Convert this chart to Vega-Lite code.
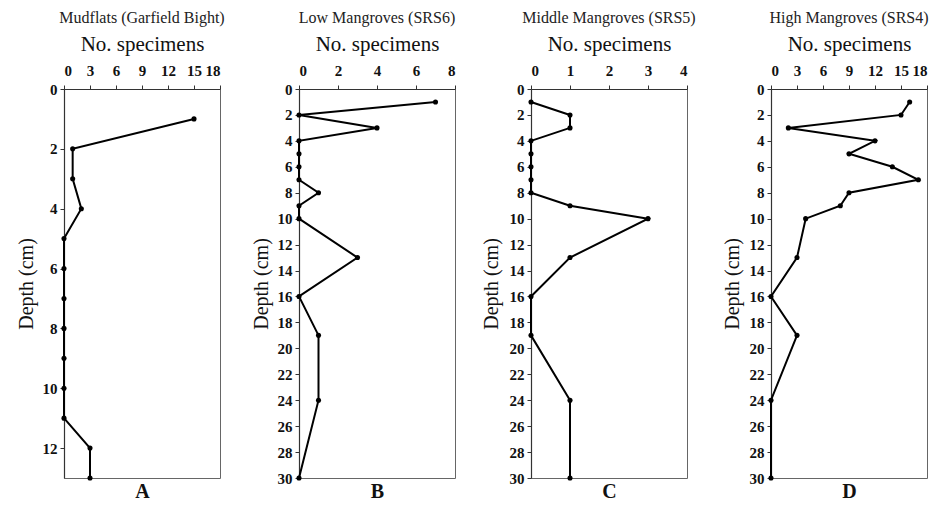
{
  "$schema": "https://vega.github.io/schema/vega-lite/v6.json",
  "padding": {"top": 9, "left": 15, "right": 0, "bottom": 0},
  "background": "white",
  "config": {
    "font": "Liberation Serif",
    "view": {"stroke": "#666666", "strokeWidth": 1},
    "title": {"font": "Liberation Serif", "fontSize": 16, "fontWeight": "normal", "color": "#222222", "anchor": "middle", "frame": "group", "offset": 7},
    "axis": {
      "labelFont": "Liberation Serif", "labelFontWeight": "bold", "labelFontSize": 15, "labelColor": "#111111",
      "titleFont": "Liberation Serif", "titleFontWeight": "normal", "titleFontSize": 20, "titleColor": "#111111",
      "domainColor": "#333333", "domainWidth": 1.2, "tickColor": "#333333", "tickSize": 4, "grid": false
    }
  },
  "data": {
    "values": [
      {"site": "A", "depth": 1, "n": 15}, {"site": "A", "depth": 2, "n": 1}, {"site": "A", "depth": 3, "n": 1},
      {"site": "A", "depth": 4, "n": 2}, {"site": "A", "depth": 5, "n": 0}, {"site": "A", "depth": 6, "n": 0},
      {"site": "A", "depth": 7, "n": 0}, {"site": "A", "depth": 8, "n": 0}, {"site": "A", "depth": 9, "n": 0},
      {"site": "A", "depth": 10, "n": 0}, {"site": "A", "depth": 11, "n": 0}, {"site": "A", "depth": 12, "n": 3},
      {"site": "A", "depth": 13, "n": 3},
      {"site": "B", "depth": 1, "n": 7}, {"site": "B", "depth": 2, "n": 0}, {"site": "B", "depth": 3, "n": 4},
      {"site": "B", "depth": 4, "n": 0}, {"site": "B", "depth": 5, "n": 0}, {"site": "B", "depth": 6, "n": 0},
      {"site": "B", "depth": 7, "n": 0}, {"site": "B", "depth": 8, "n": 1}, {"site": "B", "depth": 9, "n": 0},
      {"site": "B", "depth": 10, "n": 0}, {"site": "B", "depth": 13, "n": 3}, {"site": "B", "depth": 16, "n": 0},
      {"site": "B", "depth": 19, "n": 1}, {"site": "B", "depth": 24, "n": 1}, {"site": "B", "depth": 30, "n": 0},
      {"site": "C", "depth": 1, "n": 0}, {"site": "C", "depth": 2, "n": 1}, {"site": "C", "depth": 3, "n": 1},
      {"site": "C", "depth": 4, "n": 0}, {"site": "C", "depth": 5, "n": 0}, {"site": "C", "depth": 6, "n": 0},
      {"site": "C", "depth": 7, "n": 0}, {"site": "C", "depth": 8, "n": 0}, {"site": "C", "depth": 9, "n": 1},
      {"site": "C", "depth": 10, "n": 3}, {"site": "C", "depth": 13, "n": 1}, {"site": "C", "depth": 16, "n": 0},
      {"site": "C", "depth": 19, "n": 0}, {"site": "C", "depth": 24, "n": 1}, {"site": "C", "depth": 30, "n": 1},
      {"site": "D", "depth": 1, "n": 16}, {"site": "D", "depth": 2, "n": 15}, {"site": "D", "depth": 3, "n": 2},
      {"site": "D", "depth": 4, "n": 12}, {"site": "D", "depth": 5, "n": 9}, {"site": "D", "depth": 6, "n": 14},
      {"site": "D", "depth": 7, "n": 17}, {"site": "D", "depth": 8, "n": 9}, {"site": "D", "depth": 9, "n": 8},
      {"site": "D", "depth": 10, "n": 4}, {"site": "D", "depth": 13, "n": 3}, {"site": "D", "depth": 16, "n": 0},
      {"site": "D", "depth": 19, "n": 3}, {"site": "D", "depth": 24, "n": 0}, {"site": "D", "depth": 30, "n": 0}
    ]
  },
  "spacing": 24,
  "hconcat": [
    {
      "width": 156, "height": 389,
      "title": "Mudflats (Garfield Bight)",
      "transform": [{"filter": "datum.site === 'A'"}],
      "encoding": {
        "y": {"field": "depth", "type": "quantitative", "scale": {"domain": [0, 13], "reverse": true, "nice": false, "zero": false},
              "axis": {"title": "Depth (cm)", "values": [0, 2, 4, 6, 8, 10, 12], "labelPadding": 3, "titlePadding": 6}},
        "order": {"field": "depth", "type": "quantitative"}
      },
      "layer": [
        {"mark": {"type": "line", "color": "black", "strokeWidth": 2},
         "encoding": {"x": {"field": "n", "type": "quantitative", "scale": {"domain": [0, 18], "nice": false},
                            "axis": {"orient": "top", "title": "No. specimens", "titleFontSize": 21, "values": [0, 3, 6, 9, 12, 15, 18], "labelPadding": 7, "titlePadding": 9}}}},
        {"mark": {"type": "point", "filled": true, "color": "black", "size": 26, "opacity": 1},
         "encoding": {"x": {"field": "n", "type": "quantitative", "scale": {"domain": [0, 18], "nice": false},
                            "axis": {"orient": "bottom", "title": "A", "labels": false, "ticks": false, "domain": false, "titleFontWeight": "bold", "titleFontSize": 20, "titlePadding": 3}}}}
      ],
      "resolve": {"axis": {"x": "independent"}}
    },
    {
      "width": 156, "height": 389,
      "title": "Low Mangroves (SRS6)",
      "transform": [{"filter": "datum.site === 'B'"}],
      "encoding": {
        "y": {"field": "depth", "type": "quantitative", "scale": {"domain": [0, 30], "reverse": true, "nice": false, "zero": false},
              "axis": {"title": "Depth (cm)", "values": [0, 2, 4, 6, 8, 10, 12, 14, 16, 18, 20, 22, 24, 26, 28, 30], "labelPadding": 3, "titlePadding": 6}},
        "order": {"field": "depth", "type": "quantitative"}
      },
      "layer": [
        {"mark": {"type": "line", "color": "black", "strokeWidth": 2},
         "encoding": {"x": {"field": "n", "type": "quantitative", "scale": {"domain": [0, 8], "nice": false},
                            "axis": {"orient": "top", "title": "No. specimens", "titleFontSize": 21, "values": [0, 2, 4, 6, 8], "labelPadding": 7, "titlePadding": 9}}}},
        {"mark": {"type": "point", "filled": true, "color": "black", "size": 26, "opacity": 1},
         "encoding": {"x": {"field": "n", "type": "quantitative", "scale": {"domain": [0, 8], "nice": false},
                            "axis": {"orient": "bottom", "title": "B", "labels": false, "ticks": false, "domain": false, "titleFontWeight": "bold", "titleFontSize": 20, "titlePadding": 3}}}}
      ],
      "resolve": {"axis": {"x": "independent"}}
    },
    {
      "width": 156, "height": 389,
      "title": "Middle Mangroves (SRS5)",
      "transform": [{"filter": "datum.site === 'C'"}],
      "encoding": {
        "y": {"field": "depth", "type": "quantitative", "scale": {"domain": [0, 30], "reverse": true, "nice": false, "zero": false},
              "axis": {"title": "Depth (cm)", "values": [0, 2, 4, 6, 8, 10, 12, 14, 16, 18, 20, 22, 24, 26, 28, 30], "labelPadding": 3, "titlePadding": 8}},
        "order": {"field": "depth", "type": "quantitative"}
      },
      "layer": [
        {"mark": {"type": "line", "color": "black", "strokeWidth": 2},
         "encoding": {"x": {"field": "n", "type": "quantitative", "scale": {"domain": [0, 4], "nice": false},
                            "axis": {"orient": "top", "title": "No. specimens", "titleFontSize": 21, "values": [0, 1, 2, 3, 4], "labelPadding": 7, "titlePadding": 9}}}},
        {"mark": {"type": "point", "filled": true, "color": "black", "size": 26, "opacity": 1},
         "encoding": {"x": {"field": "n", "type": "quantitative", "scale": {"domain": [0, 4], "nice": false},
                            "axis": {"orient": "bottom", "title": "C", "labels": false, "ticks": false, "domain": false, "titleFontWeight": "bold", "titleFontSize": 20, "titlePadding": 3}}}}
      ],
      "resolve": {"axis": {"x": "independent"}}
    },
    {
      "width": 156, "height": 389,
      "title": "High Mangroves (SRS4)",
      "transform": [{"filter": "datum.site === 'D'"}],
      "encoding": {
        "y": {"field": "depth", "type": "quantitative", "scale": {"domain": [0, 30], "reverse": true, "nice": false, "zero": false},
              "axis": {"title": "Depth (cm)", "values": [0, 2, 4, 6, 8, 10, 12, 14, 16, 18, 20, 22, 24, 26, 28, 30], "labelPadding": 3, "titlePadding": 7}},
        "order": {"field": "depth", "type": "quantitative"}
      },
      "layer": [
        {"mark": {"type": "line", "color": "black", "strokeWidth": 2},
         "encoding": {"x": {"field": "n", "type": "quantitative", "scale": {"domain": [0, 18], "nice": false},
                            "axis": {"orient": "top", "title": "No. specimens", "titleFontSize": 21, "values": [0, 3, 6, 9, 12, 15, 18], "labelPadding": 7, "titlePadding": 9}}}},
        {"mark": {"type": "point", "filled": true, "color": "black", "size": 26, "opacity": 1},
         "encoding": {"x": {"field": "n", "type": "quantitative", "scale": {"domain": [0, 18], "nice": false},
                            "axis": {"orient": "bottom", "title": "D", "labels": false, "ticks": false, "domain": false, "titleFontWeight": "bold", "titleFontSize": 20, "titlePadding": 3}}}}
      ],
      "resolve": {"axis": {"x": "independent"}}
    }
  ]
}
